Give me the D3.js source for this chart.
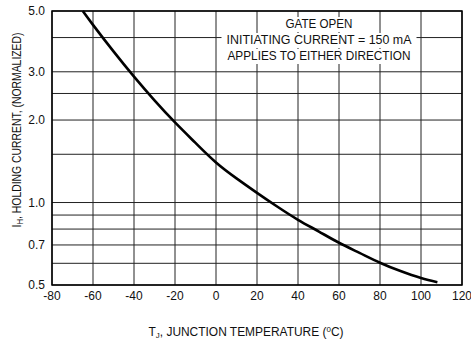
<!DOCTYPE html>
<meta charset="utf-8">
<style>
body { margin: 0; background: #fff; }
text { font-family: "Liberation Sans", Arial, sans-serif; fill: #111; }
</style>
<svg width="471" height="341"></svg>
<script src="https://cdn.jsdelivr.net/npm/d3@7"></script>
<script>
// holding current vs junction temperature
var temps   = [-65, -60, -50, -40, -30, -20, -10, 0, 10, 20, 30, 40, 50, 60, 70, 80, 90, 100, 108];
var current = [5.0, 4.45, 3.56, 2.88, 2.36, 1.96, 1.65, 1.40, 1.225, 1.085, 0.965, 0.865, 0.785, 0.713, 0.655, 0.603, 0.562, 0.530, 0.512];

var xTicks = [-80, -60, -40, -20, 0, 20, 40, 60, 80, 100, 120];
var yGrid  = [0.5, 0.6, 0.7, 0.8, 0.9, 1.0, 1.5, 2.0, 2.5, 3.0, 4.0, 5.0];
var yLabels = [0.5, 0.7, 1.0, 2.0, 3.0, 5.0];
var notes = ["GATE OPEN", "INITIATING CURRENT = 150 mA", "APPLIES TO EITHER DIRECTION"];
var noteWidths = [67, 185, 183];

var svg = d3.select("svg"),
    pLeft = 52, pRight = 462, pTop = 11, pBottom = 285;

var x = d3.scaleLinear().domain([-80, 120]).range([pLeft, pRight]);
var y = d3.scaleLog().domain([0.5, 5.0]).range([pBottom, pTop]);

// grid
svg.append("g").selectAll("line").data(xTicks).enter().append("line")
    .attr("x1", function(d) { return x(d); }).attr("x2", function(d) { return x(d); })
    .attr("y1", pTop).attr("y2", pBottom)
    .attr("stroke", "#222").attr("stroke-width", 1);

svg.append("g").selectAll("line").data(yGrid).enter().append("line")
    .attr("x1", pLeft).attr("x2", pRight)
    .attr("y1", function(d) { return y(d); }).attr("y2", function(d) { return y(d); })
    .attr("stroke", "#222").attr("stroke-width", 1);

// note box, white behind each line so the grid breaks
var notesG = svg.append("g");
notes.forEach(function(t, i) {
  var tx = notesG.append("text")
      .attr("x", 319).attr("y", 28 + i * 16)
      .attr("text-anchor", "middle")
      .attr("font-size", 13)
      .attr("textLength", noteWidths[i])
      .attr("lengthAdjust", "spacingAndGlyphs")
      .text(t);
  var bb = tx.node().getBBox();
  notesG.insert("rect", "text")
      .attr("x", 319 - noteWidths[i] / 2 - 5).attr("y", bb.y + 1)
      .attr("width", noteWidths[i] + 10).attr("height", bb.height)
      .attr("fill", "#fff");
});

// frame
svg.append("rect")
    .attr("x", pLeft).attr("y", pTop)
    .attr("width", pRight - pLeft).attr("height", pBottom - pTop)
    .attr("fill", "none").attr("stroke", "#000").attr("stroke-width", 1.5);

// curve
var line = d3.line()
    .x(function(d, i) { return x(temps[i]); })
    .y(function(d) { return y(d); })
    .curve(d3.curveNatural);

svg.append("path")
    .datum(current)
    .attr("d", line)
    .attr("fill", "none")
    .attr("stroke", "#000")
    .attr("stroke-width", 2.6);

// tick labels
svg.append("g").selectAll("text").data(xTicks).enter().append("text")
    .attr("x", function(d) { return x(d); })
    .attr("y", 300)
    .attr("text-anchor", "middle")
    .attr("font-size", 12)
    .text(function(d) { return d < 0 ? "-" + Math.abs(d) : d; });

svg.append("g").selectAll("text").data(yLabels).enter().append("text")
    .attr("x", 45)
    .attr("y", function(d) { return y(d) + 4; })
    .attr("text-anchor", "end")
    .attr("font-size", 12)
    .text(function(d) { return d.toFixed(1); });

// axis titles
var xt = svg.append("text")
    .attr("x", 246).attr("y", 336)
    .attr("text-anchor", "middle")
    .attr("font-size", 12)
    .attr("textLength", 195)
    .attr("lengthAdjust", "spacingAndGlyphs");
xt.append("tspan").text("T");
xt.append("tspan").attr("font-size", 8).attr("dy", 2).text("J");
xt.append("tspan").attr("dy", -2).text(", JUNCTION TEMPERATURE (");
xt.append("tspan").attr("font-size", 8).attr("dy", -4).text("0");
xt.append("tspan").attr("dy", 4).text("C)");

var yt = svg.append("text")
    .attr("transform", "translate(21,130) rotate(-90)")
    .attr("text-anchor", "middle")
    .attr("font-size", 12)
    .attr("textLength", 195)
    .attr("lengthAdjust", "spacingAndGlyphs");
yt.append("tspan").text("I");
yt.append("tspan").attr("font-size", 9).attr("dy", 2).text("H");
yt.append("tspan").attr("dy", -2).text(", HOLDING CURRENT, (NORMALIZED)");
</script>
